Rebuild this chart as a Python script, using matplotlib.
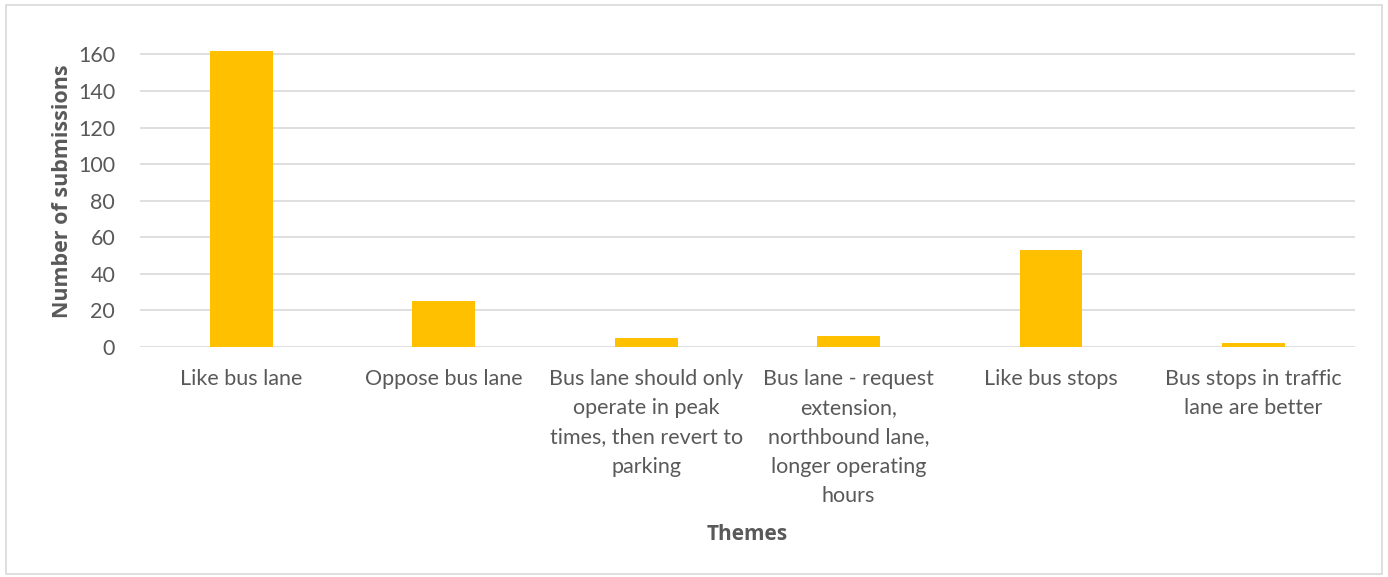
import matplotlib
matplotlib.use('Agg')
import matplotlib.pyplot as plt
from matplotlib.patches import Rectangle
import numpy as np

# Data
themes = ["Like bus lane",
          "Oppose bus lane",
          "Bus lane should only\noperate in peak\ntimes, then revert to\nparking",
          "Bus lane - request\nextension,\nnorthbound lane,\nlonger operating\nhours",
          "Like bus stops",
          "Bus stops in traffic\nlane are better"]
submissions = [162, 25, 5, 6, 53, 2]
y_ticks = [0, 20, 40, 60, 80, 100, 120, 140, 160]

plt.rcParams['font.family'] = ['Lato', 'DejaVu Sans']
text_gray = '#595959'

fig = plt.figure(figsize=(13.88, 5.77), dpi=100)
# light border round the chart area
fig.patches.append(Rectangle((0.004, 0.006), 0.992, 0.986, transform=fig.transFigure,
                             fill=False, edgecolor='#d9d9d9', linewidth=1.2))

ax = fig.add_axes([0.101, 0.399, 0.875, 0.57])
x = np.arange(len(themes))
ax.bar(x, submissions, width=0.31, color='#ffc000', zorder=3)

ax.set_xlim(-0.5, len(themes) - 0.5)
ax.set_ylim(0, 180)
ax.set_yticks(y_ticks)
ax.set_yticklabels([str(t) for t in y_ticks], fontsize=15.5, color=text_gray)
ax.set_xticks(x)
ax.set_xticklabels(themes, fontsize=15.5, color=text_gray, linespacing=1.58, va='top')

for t in y_ticks:
    ax.axhline(t, color='#d9d9d9', linewidth=1.2, zorder=1)

for s in ax.spines.values():
    s.set_visible(False)
ax.tick_params(axis='both', length=0)
ax.tick_params(axis='x', pad=16)
ax.tick_params(axis='y', pad=18)

ax.set_ylabel("Number of submissions", fontsize=15.5, fontweight='bold', color=text_gray,
              family=['Open Sans', 'DejaVu Sans'])
ax.yaxis.set_label_coords(-0.055, 0.474)
fig.text(0.538, 0.074, "Themes", fontsize=15, fontweight='bold', color=text_gray,
         ha='center', va='center', family=['Open Sans', 'DejaVu Sans'])

fig.savefig('out.png', dpi=100)
